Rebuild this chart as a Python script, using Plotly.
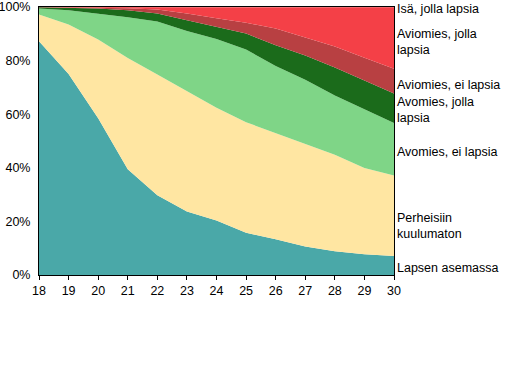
import plotly.graph_objects as go

ages = [18, 19, 20, 21, 22, 23, 24, 25, 26, 27, 28, 29, 30]

lapsen_asemassa = [87.2, 75.0, 58.5, 39.5, 29.8, 23.7, 20.3, 15.8, 13.3, 10.6, 8.9, 7.7, 7.1]
perheisiin_kuulumaton = [10.0, 18.5, 29.4, 41.5, 45.0, 44.8, 42.1, 41.2, 39.7, 38.3, 36.0, 32.2, 30.0]
avomies_ei_lapsia = [2.2, 5.3, 9.6, 15.2, 19.8, 22.5, 25.7, 27.1, 25.0, 24.0, 22.1, 21.8, 19.6]
avomies_jolla_lapsia = [0.5, 0.9, 1.9, 2.6, 3.0, 4.1, 4.5, 6.0, 7.7, 9.0, 10.4, 10.7, 11.0]
aviomies_ei_lapsia = [0.1, 0.2, 0.4, 0.7, 1.5, 2.5, 3.2, 4.0, 6.3, 6.8, 7.9, 8.7, 9.3]
isa_jolla_lapsia = [0.0, 0.0, 0.0, 0.0, 0.0, 0.05, 0.1, 0.1, 0.15, 0.2, 0.2, 0.25, 0.3]
aviomies_jolla_lapsia = [0.0, 0.1, 0.2, 0.5, 0.9, 2.35, 4.1, 5.8, 7.85, 11.1, 14.5, 18.65, 22.7]

series = [
    ("Lapsen asemassa", lapsen_asemassa, "#4AA8A8"),
    ("Perheisiin kuulumaton", perheisiin_kuulumaton, "#FFE6A2"),
    ("Avomies, ei lapsia", avomies_ei_lapsia, "#7FD587"),
    ("Avomies, jolla lapsia", avomies_jolla_lapsia, "#1B6B1B"),
    ("Aviomies, ei lapsia", aviomies_ei_lapsia, "#B84042"),
    ("Aviomies, jolla lapsia", aviomies_jolla_lapsia, "#F44047"),
    ("Isä, jolla lapsia", isa_jolla_lapsia, "#F44047"),
]

label_texts = ["Lapsen asemassa", "Perheisiin<br>kuulumaton", "Avomies, ei lapsia",
               "Avomies, jolla<br>lapsia", "Aviomies, ei lapsia", "Aviomies, jolla<br>lapsia",
               "Isä, jolla lapsia"]
label_y = [2.8, 18.3, 45.8, 61.4, 71.0, 86.9, 99.1]

fig = go.Figure()
for name, vals, col in series:
    fig.add_trace(go.Scatter(
        x=ages, y=vals, name=name, mode="lines", stackgroup="one",
        line=dict(width=0, color=col), fillcolor=col, hoverinfo="x+y+name"))

font = dict(family="Liberation Sans, Arial, sans-serif", size=12.5, color="black")

for txt, yy in zip(label_texts, label_y):
    fig.add_annotation(x=1, xref="paper", xanchor="left", xshift=1, y=yy, yref="y",
                       yanchor="middle", text=txt, showarrow=False, align="left", font=font)

fig.update_layout(
    width=528, height=372,
    margin=dict(l=39, r=134, t=7, b=97),
    paper_bgcolor="white", plot_bgcolor="white",
    showlegend=False, font=font,
)
fig.update_xaxes(range=[18, 30], tickvals=ages, ticktext=[str(a) for a in ages],
                 showgrid=False, zeroline=False, showline=True, linecolor="black",
                 linewidth=1, mirror=True, ticks="outside", ticklen=4, tickcolor="black",
                 tickfont=font, automargin=False)
fig.update_yaxes(range=[0, 100], tickvals=[0, 20, 40, 60, 80, 100],
                 ticktext=["0%", "20%", "40%", "60%", "80%", "100%"],
                 showgrid=False, zeroline=False, showline=True, linecolor="black",
                 linewidth=1, mirror=True, ticks="outside", ticklen=5,
                 tickcolor="rgba(0,0,0,0)", tickfont=font, automargin=False)

fig.write_html("out.html", config={"displayModeBar": False},
               post_script="document.body.style.margin='0px';")
